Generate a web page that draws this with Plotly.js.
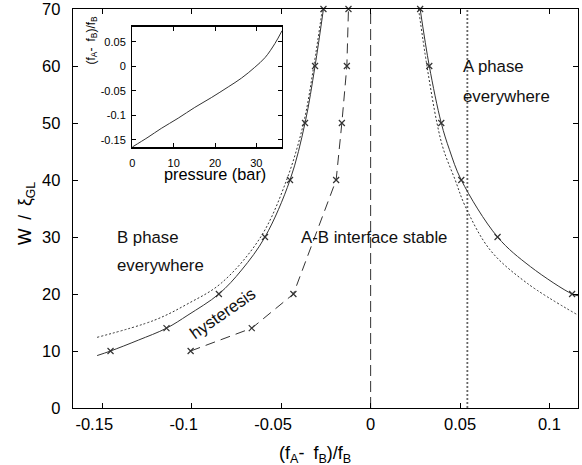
<!DOCTYPE html>
<html>
<head>
<meta charset="utf-8">
<script src="https://cdn.plot.ly/plotly-3.0.1.min.js"></script>
<style>html,body{margin:0;padding:0;background:#fff;}#chart{width:582px;height:465px;}</style>
</head>
<body>
<div id="chart"></div>
<script>
// ---- main plot: fitted boundary curves (solid) ----
const solidLeftX = [-0.153, -0.1455, -0.130, -0.1142, -0.1022, -0.0849, -0.0722, -0.0591, -0.0451, -0.0367, -0.0311, -0.0264];
const solidLeftW = [9.2, 10, 11.9, 14, 16.3, 20, 24.2, 30, 40, 50, 60, 70];
const solidRightX = [0.0277, 0.0328, 0.0395, 0.0441, 0.0507, 0.0710, 0.0894, 0.1127, 0.1160];
const solidRightW = [70, 60, 50, 45.3, 40, 30, 24.8, 20, 19.7];
// computed points on the boundaries (x markers)
const ptsLeftX = [-0.1455, -0.1142, -0.0849, -0.0591, -0.0451, -0.0367, -0.0311, -0.0264];
const ptsLeftW = [10, 14, 20, 30, 40, 50, 60, 70];
const ptsRightX = [0.0277, 0.0328, 0.0395, 0.0507, 0.0710, 0.1127];
const ptsRightW = [70, 60, 50, 40, 30, 20];
// dotted approximate curves
const dotLeftX = [-0.153, -0.121, -0.1022, -0.0836, -0.0615, -0.047, -0.0375, -0.0318, -0.0270];
const dotLeftW = [12.4, 15.4, 18.3, 21.9, 30, 40, 50, 60, 70];
const dotRightX = [0.0268, 0.0315, 0.0371, 0.0408, 0.0473, 0.0529, 0.0669, 0.0875, 0.1160];
const dotRightW = [70, 60, 50, 45.3, 40, 35.4, 27.7, 21.9, 16.3];
// hysteresis (dashed with markers)
const hystX = [-0.1007, -0.0665, -0.0432, -0.0193, -0.0161, -0.0133, -0.0124];
const hystW = [10, 14, 20, 40, 50, 60, 70];
// vertical reference lines
const vDashedX = 0;       // f_A = f_B
const vDottedX = 0.0541;  // melting pressure
const vRange = [0, 70];
// ticks
const xTickVals = [-0.15, -0.1, -0.05, 0, 0.05, 0.1];
const xTickText = ['-0.15\u2003', '-0.1\u2003', '-0.05\u2003', '0', '0.05', '0.1'];
const yTickVals = [0, 10, 20, 30, 40, 50, 60, 70];
// ---- inset ----
const insetP = [0, 3.8, 7, 11.1, 15.1, 19.1, 23.2, 26.4, 29.6, 32.1, 34.5, 36.2];
const insetF = [-0.165, -0.145, -0.127, -0.106, -0.084, -0.064, -0.042, -0.024, -0.002, 0.018, 0.047, 0.073];
const insetXTicks = [0, 10, 20, 30];
const insetYTickVals = [-0.15, -0.1, -0.05, 0, 0.05];
const insetYTickText = ['-0.15', '-0.1', '-0.05', '0', '0.05'];

const C = '#333';
const mk = {symbol: 'x-thin', size: 6, color: C, line: {width: 1.2, color: C}};
const traces = [
  {x: [vDashedX, vDashedX], y: vRange, mode: 'lines', line: {color: C, width: 1, dash: '11px,5px'}},
  {x: [vDottedX, vDottedX], y: vRange, mode: 'lines', line: {color: '#666', width: 1.8, dash: '2px,2px'}},
  {x: dotLeftX, y: dotLeftW, mode: 'lines', line: {color: C, width: 1, dash: '2px,2px', shape: 'spline'}},
  {x: dotRightX, y: dotRightW, mode: 'lines', line: {color: C, width: 1, dash: '2px,2px', shape: 'spline'}},
  {x: solidLeftX, y: solidLeftW, mode: 'lines', line: {color: C, width: 1, shape: 'spline'}},
  {x: solidRightX, y: solidRightW, mode: 'lines', line: {color: C, width: 1, shape: 'spline'}},
  {x: hystX, y: hystW, mode: 'lines', line: {color: C, width: 1, dash: '10px,6px'}},
  {x: ptsLeftX, y: ptsLeftW, mode: 'markers', marker: mk, cliponaxis: false},
  {x: ptsRightX, y: ptsRightW, mode: 'markers', marker: mk, cliponaxis: false},
  {x: hystX, y: hystW, mode: 'markers', marker: mk, cliponaxis: false},
  {x: insetP, y: insetF, xaxis: 'x2', yaxis: 'y2', mode: 'lines', line: {color: C, width: 1, shape: 'spline'}}
];

const FONT = 'Liberation Sans, Arial, Helvetica, sans-serif';
const ax = {
  ticks: 'inside', ticklen: 5, tickwidth: 1, tickcolor: '#000',
  showline: true, linewidth: 1.3, linecolor: '#000', mirror: 'ticks',
  showgrid: false, zeroline: false, fixedrange: true, ticklabeloverflow: 'allow'
};
const txt = (x, y, t, extra) => Object.assign({x: x, y: y, xref: 'x', yref: 'y', text: t, showarrow: false,
  xanchor: 'left', yanchor: 'middle', font: {size: 16.8, color: '#111', family: FONT}}, extra || {});

const layout = {
  width: 582, height: 465,
  margin: {l: 73, r: 4, t: 9, b: 57},
  paper_bgcolor: '#fff', plot_bgcolor: '#fff',
  showlegend: false,
  font: {family: FONT, size: 16.5, color: '#000'},
  xaxis: Object.assign({}, ax, {range: [-0.1665, 0.116], tickvals: xTickVals, ticktext: xTickText,
    ticklabelstandoff: 1, tickfont: {size: 16.5}}),
  yaxis: Object.assign({}, ax, {range: [0, 70], tickvals: yTickVals, ticklabelstandoff: 8, tickfont: {size: 16.5}}),
  xaxis2: Object.assign({}, ax, {domain: [0.1174, 0.4139], anchor: 'y2', range: [0, 36.2], ticklen: 4,
    tickvals: insetXTicks, ticklabelstandoff: 5, tickfont: {size: 11}}),
  yaxis2: Object.assign({}, ax, {domain: [0.6529, 0.9554], anchor: 'x2', range: [-0.166, 0.081], ticklen: 4,
    tickvals: insetYTickVals, ticktext: insetYTickText, ticklabelstandoff: 3, tickfont: {size: 11}}),
  annotations: [
    txt(-0.1431, 30, 'B phase'),
    txt(-0.1431, 25, 'everywhere'),
    txt(0.0504, 60, 'A phase'),
    txt(0.0504, 54.7, 'everywhere'),
    txt(-0.0401, 30, 'A-B interface stable'),
    txt(-0.0826, 16.6, 'hysteresis', {xanchor: 'center', textangle: -35}),
    {xref: 'paper', yref: 'paper', x: 0.480, y: -0.1153, xanchor: 'center', yanchor: 'middle', showarrow: false,
      text: '(f<sub>A</sub>-\u2002f<sub>B</sub>)/f<sub>B</sub>', font: {size: 18, color: '#000', family: FONT}},
    {xref: 'paper', yref: 'paper', x: -0.0931, y: 0.4887, xanchor: 'center', yanchor: 'middle', showarrow: false,
      textangle: -90, text: 'W\u2002/\u2002ξ<sub>GL</sub>', font: {size: 17.5, color: '#000', family: FONT}},
    {xref: 'paper', yref: 'paper', x: 0.0376, y: 0.9236, xanchor: 'center', yanchor: 'middle', showarrow: false,
      textangle: -90, text: '(f<sub>A</sub>-\u2002f<sub>B</sub>)/f<sub>B</sub>', font: {size: 12, color: '#000', family: FONT}},
    {xref: 'paper', yref: 'paper', x: 0.2818, y: 0.586, xanchor: 'center', yanchor: 'middle', showarrow: false,
      text: 'pressure (bar)', font: {size: 16.3, color: '#000', family: FONT}}
  ]
};
Plotly.newPlot('chart', traces, layout, {staticPlot: true, displayModeBar: false});
</script>
</body>
</html>
